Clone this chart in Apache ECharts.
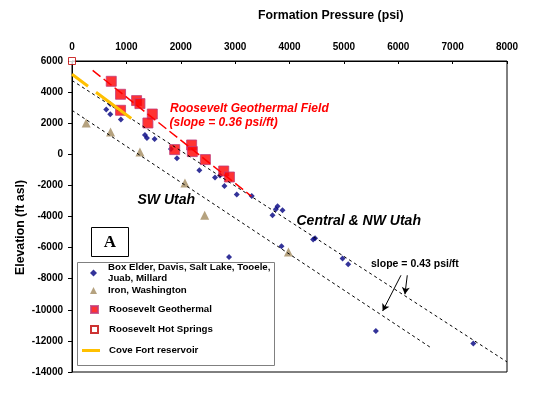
<!DOCTYPE html>
<html>
<head>
<meta charset="utf-8">
<script src="https://cdn.jsdelivr.net/npm/echarts@6/dist/echarts.min.js"></script>
<style>
html,body{margin:0;padding:0;background:#fff;}
#chart{width:539px;height:398px;}
</style>
</head>
<body>
<div id="chart"></div>
<script>
// ---- data (pressure psi, elevation ft asl) ----
var nameBoxElder = 'Box Elder, Davis, Salt Lake, Tooele,\nJuab, Millard';
var nameIron = 'Iron, Washington';
var nameRGeo = 'Roosevelt Geothermal';
var nameRHS = 'Roosevelt Hot Springs';
var nameCove = 'Cove Fort reservoir';

var boxElder = [[703,3235],[630,2875],[703,2572],[899,2232],[1341,1241],[1378,1048],[1519,984],
  [1820,341],[1930,-257],[2342,-1029],[2630,-1498],[2722,-1370],[2803,-2039],[3030,-2592],[3306,-2682],
  [3780,-3344],[3748,-3537],[3871,-3601],[3687,-3923],[2888,-6605],[3853,-5916],[4435,-5486],[4470,-5400],
  [4976,-6708],[5079,-7074],[5589,-11363],[7381,-12173]];
var ironWashington = [[261,2013],[709,1434],[1249,148],[2077,-1846],[2440,-3923],[3981,-6283]];
var rooseveltGeo = [[722,4695],[893,3860],[893,2830],[1188,3453],[1249,3260],[1477,2590],[1396,2013],
  [1888,302],[2200,600],[2213,174],[2453,-340],[2790,-1074],[2895,-1460]];
var hotSprings = [[0,6000]];
var coveFort = [[0,5150],[1090,2300]];
var rooseveltTrend = [[380,5400],[3300,-2700]];
var centralTrend = [[0,4750],[8000,-13350]];
var swTrend = [[0,2830],[6580,-12390]];
var arrows = [[[6050,-7780],[5713,-10080]],[[6166,-7780],[6123,-9000]]];

var xTicks = {min:0, max:8000, interval:1000};
var yTicks = {min:-14000, max:6000, interval:2000};

var FF = '"Liberation Sans", Arial, sans-serif';
function plain(v){ return String(v); }

var chart = echarts.init(document.getElementById('chart'), null, {renderer:'canvas'});

var option = {
  backgroundColor:'#fff',
  animation:false,
  title:{
    text:'Formation Pressure (psi)',
    left:258, top:10, padding:0,
    textStyle:{fontFamily:FF, fontSize:12.3, fontWeight:'bold', color:'#000'}
  },
  grid:{left:72, right:32, top:61, bottom:26, show:true, borderColor:'#000', borderWidth:1, backgroundColor:'#fff'},
  xAxis:{
    type:'value', position:'top', min:xTicks.min, max:xTicks.max, interval:xTicks.interval,
    axisLine:{show:true, onZero:false, lineStyle:{color:'#000', width:1}},
    axisTick:{show:true, inside:true, length:3, lineStyle:{color:'#000'}},
    axisLabel:{margin:9, fontFamily:FF, fontSize:10, fontWeight:'bold', color:'#000', formatter:plain},
    splitLine:{show:false}
  },
  yAxis:{
    type:'value', min:yTicks.min, max:yTicks.max, interval:yTicks.interval,
    axisLine:{show:true, onZero:false, lineStyle:{color:'#000', width:1}},
    axisTick:{show:true, inside:false, length:4, lineStyle:{color:'#000'}},
    axisLabel:{margin:9, fontFamily:FF, fontSize:10, fontWeight:'bold', color:'#000', formatter:plain},
    splitLine:{show:false}
  },
  legend:[
    {
      data:[nameBoxElder, nameIron], orient:'vertical', left:90, top:262, padding:0,
      itemWidth:7, itemHeight:7, itemGap:1, selectedMode:false,
      textStyle:{fontFamily:FF, fontSize:9.7, fontWeight:'bold', color:'#000', lineHeight:11, padding:[0,0,0,6]}
    },
    {
      data:[nameRGeo, nameRHS], orient:'vertical', left:90, top:304, padding:0,
      itemWidth:7, itemHeight:7, itemGap:9, selectedMode:false,
      textStyle:{fontFamily:FF, fontSize:9.7, fontWeight:'bold', color:'#000', lineHeight:11, padding:[0,0,0,6]}
    },
    {
      data:[{name:nameCove, icon:'rect'}], orient:'vertical', left:82, top:345, padding:0,
      itemWidth:18, itemHeight:3, selectedMode:false,
      textStyle:{fontFamily:FF, fontSize:9.7, fontWeight:'bold', color:'#000', lineHeight:11, padding:[0,0,0,4]}
    }
  ],
  series:[
    {type:'line', name:'trend-central', data:centralTrend, symbol:'none', silent:true,
      lineStyle:{color:'#000', width:1, type:[3,3]}},
    {type:'line', name:'trend-sw', data:swTrend, symbol:'none', silent:true,
      lineStyle:{color:'#000', width:1, type:[3,3]}},
    {type:'line', name:'trend-roosevelt', data:rooseveltTrend, symbol:'none', silent:true,
      lineStyle:{color:'#FF0000', width:1.5, type:[10,4]}},
    {type:'line', name:nameCove, data:coveFort, symbol:'none', silent:true,
      itemStyle:{color:'#FFC000'},
      lineStyle:{color:'#FFC000', width:3, type:[20,10,44,10]}},
    {type:'scatter', name:nameIron, data:ironWashington, symbol:'triangle', symbolSize:9,
      itemStyle:{color:'#A38B5F'}},
    {type:'scatter', name:nameBoxElder, data:boxElder, symbol:'diamond', symbolSize:6,
      itemStyle:{color:'#000080'}},
    {type:'scatter', name:nameRGeo, data:rooseveltGeo, symbol:'rect', symbolSize:10,
      itemStyle:{color:'#FF0000', borderColor:'#C03C7A', borderWidth:1}},
    {type:'scatter', name:nameRHS, data:hotSprings, symbol:'rect', symbolSize:7, clip:false, z:5,
      itemStyle:{color:'#FFFFFF', borderColor:'#C00000', borderWidth:1}},
    {type:'line', name:'arrows', data:[], silent:true,
      markLine:{
        silent:true, symbol:['none','arrow'], symbolSize:[6,7],
        label:{show:false},
        lineStyle:{color:'#000', width:1, type:'solid'},
        data:arrows.map(function(a){return [{coord:a[0]},{coord:a[1]}];})
      }}
  ],
  graphic:[
    {type:'text', x:20.5, y:227.5, rotation:Math.PI/2,
      style:{text:'Elevation (ft asl)', fill:'#000', font:'bold 12.3px '+FF, align:'center', verticalAlign:'middle'}},
    {type:'rect', z:3, shape:{x:77.5, y:262.5, width:197, height:103},
      style:{fill:'#fff', stroke:'#808080', lineWidth:1}},
    {type:'rect', z:3, shape:{x:91.5, y:227.5, width:37, height:29},
      style:{fill:'#fff', stroke:'#000', lineWidth:1}},
    {type:'text', z:4, x:110, y:243,
      style:{text:'A', fill:'#000', font:'bold 17px "Liberation Serif", "Times New Roman", serif', align:'center', verticalAlign:'middle'}},
    {type:'text', z:4, x:170, y:108.5,
      style:{text:'Roosevelt Geothermal Field', fill:'#FF0000', font:'italic bold 12px '+FF, verticalAlign:'middle'}},
    {type:'text', z:4, x:169.5, y:122.5,
      style:{text:'(slope = 0.36 psi/ft)', fill:'#FF0000', font:'italic bold 12px '+FF, verticalAlign:'middle'}},
    {type:'text', z:4, x:137.5, y:200,
      style:{text:'SW Utah', fill:'#000', font:'italic bold 14px '+FF, verticalAlign:'middle'}},
    {type:'text', z:4, x:296.5, y:221,
      style:{text:'Central & NW Utah', fill:'#000', font:'italic bold 14px '+FF, verticalAlign:'middle'}},
    {type:'text', z:4, x:371, y:264.5,
      style:{text:'slope = 0.43 psi/ft', fill:'#000', font:'bold 10.5px '+FF, verticalAlign:'middle'}}
  ]
};
chart.setOption(option);
</script>
</body>
</html>
